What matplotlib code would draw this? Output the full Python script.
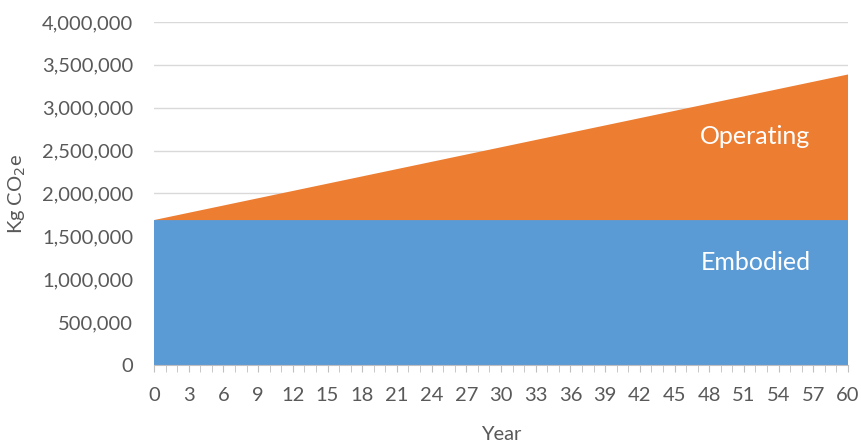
import matplotlib.pyplot as plt
from matplotlib.ticker import FuncFormatter, MultipleLocator

plt.rcParams['font.family'] = ['Lato', 'DejaVu Sans']

years = list(range(0, 61))
embodied = [1690000] * 61
operating = [0, 28300, 56600, 84900, 113200, 141500, 169800, 198100, 226400, 254700,
             283000, 311300, 339600, 367900, 396200, 424500, 452800, 481100, 509400, 537700,
             566000, 594300, 622600, 650900, 679200, 707500, 735800, 764100, 792400, 820700,
             849000, 877300, 905600, 933900, 962200, 990500, 1018800, 1047100, 1075400, 1103700,
             1132000, 1160300, 1188600, 1216900, 1245200, 1273500, 1301800, 1330100, 1358400, 1386700,
             1415000, 1443300, 1471600, 1499900, 1528200, 1556500, 1584800, 1613100, 1641400, 1669700,
             1698000]

txt = '#595959'

fig = plt.figure(figsize=(8.61, 4.42), dpi=100)
ax = fig.add_axes([154 / 861, 1 - 365 / 442, (848 - 154) / 861, (365 - 22) / 442])

ax.stackplot(years, embodied, operating, colors=['#5b9bd5', '#ed7d31'], linewidth=0)

ax.set_xlim(0, 60)
ax.set_ylim(0, 4000000)
ax.yaxis.set_major_locator(MultipleLocator(500000))
ax.yaxis.set_major_formatter(FuncFormatter(lambda v, _: f"{int(v):,}"))
ax.xaxis.set_major_locator(MultipleLocator(3))
ax.xaxis.set_minor_locator(MultipleLocator(1))

ax.grid(axis='y', color='#d9d9d9', linewidth=1)
ax.set_axisbelow(True)
for s in ['top', 'right', 'left']:
    ax.spines[s].set_visible(False)
ax.spines['bottom'].set_color('#bfbfbf')
ax.spines['bottom'].set_zorder(5)

ax.tick_params(axis='y', length=0, labelsize=14.5, labelcolor=txt, pad=15)
ax.tick_params(axis='x', which='both', direction='out', length=5, color='#bfbfbf',
               labelsize=14.5, labelcolor=txt, pad=11)

ax.set_xlabel('Year', fontsize=14.5, color=txt, labelpad=16)
ax.set_ylabel('Kg CO$_2$e', fontsize=14.5, color=txt, labelpad=10)

ax.text(52, 2660000, 'Operating', color='white', fontsize=18, ha='center', va='center')
ax.text(52, 1200000, 'Embodied', color='white', fontsize=18, ha='center', va='center')

fig.savefig('out.png', dpi=100)
